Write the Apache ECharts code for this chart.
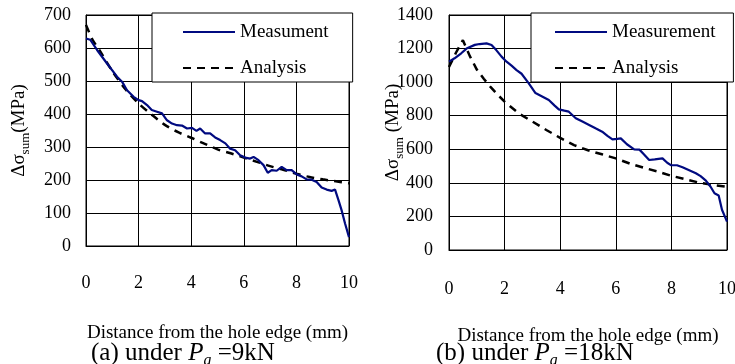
<!DOCTYPE html>
<html>
<head>
<meta charset="utf-8">
<script src="https://cdn.jsdelivr.net/npm/echarts@6/dist/echarts.min.js"></script>
<style>
html,body{margin:0;padding:0;background:#fff;}
#c{width:735px;height:364px;}
</style>
</head>
<body>
<div id="c"></div>
<script>
// ---- data (a) Pa = 9kN ----
var measAX = [0, 0.16, 0.42, 0.8, 1.18, 1.37, 1.56, 1.81, 2.0, 2.13, 2.32, 2.5, 2.7, 2.89, 3.08, 3.27, 3.46, 3.65, 3.84, 4.03, 4.2, 4.34, 4.53, 4.72, 4.91, 5.1, 5.3, 5.48, 5.67, 5.86, 6.05, 6.24, 6.37, 6.56, 6.75, 6.91, 7.06, 7.25, 7.44, 7.63, 7.82, 8.01, 8.2, 8.39, 8.58, 8.77, 8.96, 9.15, 9.34, 9.47, 9.6, 9.72, 9.85, 10];
var measAY = [629, 625, 594, 553, 513, 498, 472, 452, 442, 439, 427, 412, 407, 402, 381, 371, 366, 365, 356, 358, 349, 356, 341, 341, 329, 321, 311, 295, 290, 275, 268, 265, 270, 260, 245, 222, 230, 228, 240, 230, 230, 217, 211, 202, 201, 194, 177, 171, 167, 171, 139, 108, 68, 27];
var anaAX = [0, 0.25, 0.5, 1, 1.5, 2, 2.5, 3, 3.5, 4, 4.5, 5, 5.5, 6, 6.5, 7, 7.5, 8, 8.5, 9, 9.5, 10];
var anaAY = [670, 625, 595, 530, 475, 432, 398, 367, 345, 328, 310, 293, 281, 268, 255, 242, 231, 219, 209, 202, 196, 190];
// ---- data (b) Pa = 18kN ----
var measBX = [0, 0.2, 0.44, 0.63, 0.93, 1.1, 1.35, 1.53, 1.7, 1.89, 2.07, 2.25, 2.43, 2.61, 2.87, 3.11, 3.35, 3.59, 3.8, 3.95, 4.15, 4.31, 4.56, 4.8, 5.04, 5.27, 5.51, 5.7, 5.88, 6.05, 6.18, 6.4, 6.66, 6.85, 7.0, 7.2, 7.4, 7.68, 7.85, 7.98, 8.2, 8.4, 8.6, 8.88, 9.05, 9.24, 9.41, 9.55, 9.7, 9.82, 10];
var measBY = [1122, 1142, 1172, 1200, 1222, 1227, 1231, 1221, 1191, 1152, 1122, 1098, 1072, 1050, 993, 935, 915, 894, 860, 838, 830, 824, 785, 765, 745, 725, 705, 680, 659, 662, 665, 630, 600, 598, 572, 536, 540, 546, 520, 506, 505, 493, 478, 457, 440, 413, 377, 338, 325, 240, 169];
var anaBX = [0, 0.25, 0.5, 0.75, 1, 1.25, 1.5, 1.75, 2, 2.5, 3, 3.5, 4, 4.5, 5, 5.5, 6, 6.5, 7, 7.5, 8, 8.5, 9, 9.5, 10];
var anaBY = [1090, 1175, 1250, 1155, 1075, 1020, 970, 925, 884, 815, 765, 715, 668, 625, 594, 570, 546, 515, 490, 468, 442, 422, 401, 388, 376];

var nameMeasA = 'Measument', nameMeasB = 'Measurement', nameAna = 'Analysis';
var xName = 'Distance from the hole edge (mm)';

function pairs(xs, ys){ return xs.map(function(x,i){ return [x, ys[i]]; }); }

var FF = 'Liberation Serif';
var BLUE = '#000a80';

function yAx(idx, max, interval, gap, margin, sep){
  return {
    type:'value', gridIndex: idx, min:0, max:max, interval:interval,
    axisLine:{show:true, lineStyle:{color:'#000', width:1}},
    axisTick:{show:false},
    splitLine:{show:true, lineStyle:{color:'#000', width:1}},
    axisLabel:{color:'#000', fontFamily:FF, fontSize:18, margin:margin, formatter:function(v){ return String(v); }},
    name:'{a|Δσ}{s|sum}{a|' + sep + '(MPa)}',
    nameLocation:'middle', nameGap:gap, nameMoveOverlap:false,
    nameTextStyle:{color:'#000', fontFamily:FF,
      rich:{a:{fontFamily:FF, fontSize:19, color:'#000', lineHeight:20, verticalAlign:'bottom'},
            s:{fontFamily:FF, fontSize:13, color:'#000', lineHeight:14, verticalAlign:'bottom', padding:[0,0,-3,0]}}}
  };
}
function xAx(idx, margin, gap){
  return {
    type:'value', gridIndex: idx, min:0, max:10, interval:2,
    axisLine:{show:true, onZero:false, lineStyle:{color:'#000', width:1}},
    axisTick:{show:false},
    splitLine:{show:true, lineStyle:{color:'#000', width:1}},
    axisLabel:{color:'#000', fontFamily:FF, fontSize:18, margin:margin},
    name:xName, nameLocation:'middle', nameGap:gap, nameMoveOverlap:false,
    nameTextStyle:{color:'#000', fontFamily:FF, fontSize:19, verticalAlign:'top'}
  };
}
function legend(left, pad, names){
  return {
    orient:'vertical', left:left, top:13, padding:pad,
    backgroundColor:'#fff', borderColor:'#000', borderWidth:1, borderRadius:0,
    itemWidth:52, itemHeight:14, itemGap:16,
    itemStyle:{opacity:0},
    textStyle:{color:'#000', fontFamily:FF, fontSize:19, lineHeight:20},
    data: names.map(function(n){ return {name:n}; })
  };
}

var capRich = {
  r:{fontFamily:FF, fontSize:25, fill:'#000', lineHeight:25, verticalAlign:'bottom'},
  i:{fontFamily:FF, fontSize:25, fontStyle:'italic', fill:'#000', lineHeight:25, verticalAlign:'bottom'},
  s:{fontFamily:FF, fontSize:16, fontStyle:'italic', fill:'#000', lineHeight:16, verticalAlign:'bottom', padding:[0,0,-3,0]}
};

var chart = echarts.init(document.getElementById('c'), null, {renderer:'canvas'});
chart.setOption({
  backgroundColor:'#fff',
  animation:false,
  textStyle:{fontFamily:FF},
  grid:[
    {left:86, right:386, top:15, bottom:118, show:true, borderColor:'#000', borderWidth:1, outerBoundsMode:'none'},
    {left:449, right:8, top:15, bottom:114, show:true, borderColor:'#000', borderWidth:1, outerBoundsMode:'none'}
  ],
  xAxis:[ xAx(0, 28, 78), xAx(1, 30, 77) ],
  yAxis:[ yAx(0, 700, 100, 57, 15, ''), yAx(1, 1400, 200, 46, 16, ' ') ],
  legend:[ legend(152, [9, 24, 4, 30], [nameMeasA, nameAna]),
           legend(531, [9, 18, 4, 23], [nameMeasB, nameAna]) ],
  series:[
    {type:'line', name:nameMeasA, xAxisIndex:0, yAxisIndex:0, data:pairs(measAX, measAY),
     showSymbol:false, symbol:'none', lineStyle:{color:BLUE, width:2.2}, itemStyle:{color:BLUE}, z:3},
    {type:'line', name:nameAna, xAxisIndex:0, yAxisIndex:0, data:pairs(anaAX, anaAY), smooth:0.3,
     showSymbol:false, symbol:'none', lineStyle:{color:'#000', width:2.5, type:[8,6]}, itemStyle:{color:'#000'}, z:2},
    {type:'line', name:nameMeasB, xAxisIndex:1, yAxisIndex:1, data:pairs(measBX, measBY),
     showSymbol:false, symbol:'none', lineStyle:{color:BLUE, width:2.2}, itemStyle:{color:BLUE}, z:3},
    {type:'line', name:nameAna, xAxisIndex:1, yAxisIndex:1, data:pairs(anaBX, anaBY),
     showSymbol:false, symbol:'none', lineStyle:{color:'#000', width:2.5, type:[8,6]}, itemStyle:{color:'#000'}, z:2}
  ],
  graphic:[
    {type:'text', left:91, top:341, style:{text:'{r|(a) under }{i|P}{s|a}{r| =9kN}', rich:capRich}},
    {type:'text', left:436, top:341, style:{text:'{r|(b) under }{i|P}{s|a}{r| =18kN}', rich:capRich}}
  ]
});
</script>
</body>
</html>
